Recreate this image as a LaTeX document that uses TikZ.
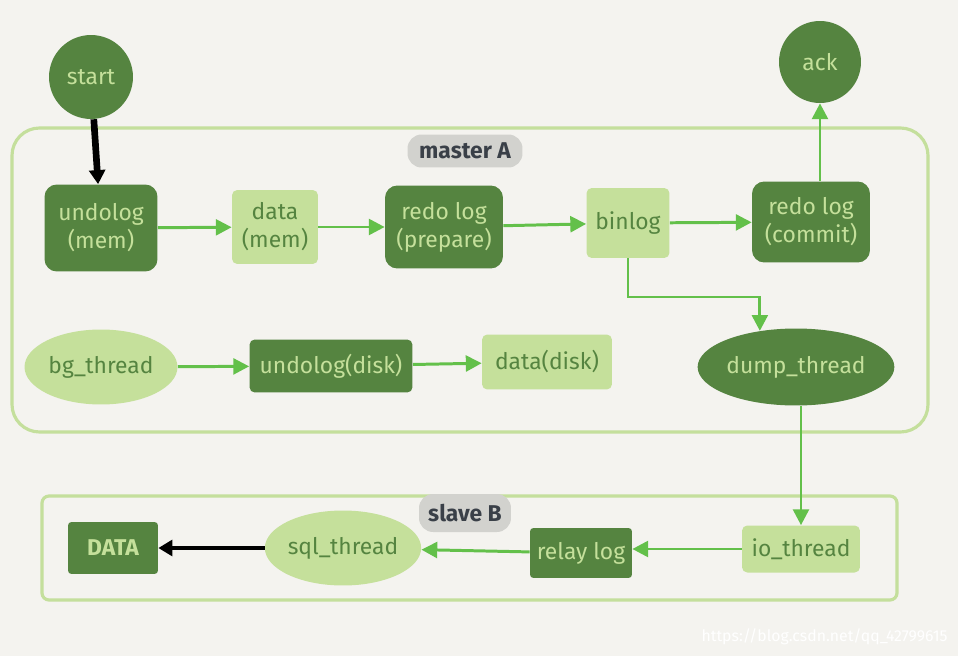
\documentclass[tikz,border=0pt]{standalone}
\usepackage{xcolor}
\usepackage{fontspec}
\setmainfont{Fira Sans}
\usepackage{tikz}
\usetikzlibrary{shapes,arrows.meta,positioning,calc}

\definecolor{paper}{HTML}{F4F3EF}
\definecolor{darkgreen}{HTML}{558440}
\definecolor{lightgreen}{HTML}{C5E09B}
\definecolor{linegreen}{HTML}{63C04A}
\definecolor{framegreen}{HTML}{C4DF9C}
\definecolor{taggrey}{HTML}{D2D2CE}
\definecolor{taginkl}{HTML}{3A4048}

\begin{document}
\begin{tikzpicture}[
  x=0.02cm, y=-0.02cm,
  font=\fontsize{13}{16}\selectfont,
  darkbox/.style={rectangle, fill=darkgreen, text=lightgreen, rounded corners=7pt, align=center, inner sep=2pt},
  lightbox/.style={rectangle, fill=lightgreen, text=darkgreen, rounded corners=3pt, align=center, inner sep=2pt},
  darkell/.style={ellipse, fill=darkgreen, text=lightgreen, inner sep=0pt},
  lightell/.style={ellipse, fill=lightgreen, text=darkgreen, inner sep=0pt},
  endpoint/.style={circle, fill=darkgreen, text=lightgreen, inner sep=0pt},
  tag/.style={rectangle, fill=taggrey, text=taginkl, rounded corners=8pt, font=\fontsize{13}{16}\selectfont\bfseries},
  frame/.style={draw=framegreen, line width=1.8pt, rounded corners=0.55cm},
  arrow/.style={-{Triangle[length=9pt,width=9pt]}, draw=linegreen, line width=1.7pt},
  blackarrow/.style={-{Triangle[length=8pt,width=9pt]}, draw=black, line width=3.8pt}
]
  % paper and bounding box
  \useasboundingbox (0,0) rectangle (958,656);
  \fill[paper] (0,0) rectangle (958,656);

  % frames
  \draw[frame] (12,128) rectangle (928,432);
  \draw[frame, rounded corners=4pt] (42,496) rectangle (897,600);
  \node[tag, minimum width=2.3cm, minimum height=0.66cm] (mastertag) at (465,151) {master A};
  \node[tag, minimum width=1.84cm, minimum height=0.76cm] (slavetag) at (465,513) {slave B};

  % master A
  \node[endpoint, minimum size=1.68cm] (start) at (91,77) {start};
  \node[endpoint, minimum size=1.64cm] (ack) at (820,62) {ack};
  \node[darkbox, minimum width=2.26cm, minimum height=1.74cm] (undomem) at (101,228) {undolog\\(mem)};
  \node[lightbox, minimum width=1.72cm, minimum height=1.48cm] (datamem) at (275,227) {data\\(mem)};
  \node[darkbox, minimum width=2.36cm, minimum height=1.66cm] (redoprep) at (444,227) {redo log\\(prepare)};
  \node[lightbox, minimum width=1.66cm, minimum height=1.4cm] (binlog) at (628,223) {binlog};
  \node[darkbox, minimum width=2.36cm, minimum height=1.62cm] (redocommit) at (811,222) {redo log\\(commit)};
  \node[lightell, minimum width=3.06cm, minimum height=1.5cm] (bgthread) at (101,367) {bg\_thread};
  \node[darkbox, rounded corners=3pt, minimum width=3.26cm, minimum height=1.06cm] (undodisk) at (331,366) {undolog(disk)};
  \node[lightbox, minimum width=2.6cm, minimum height=1.1cm] (datadisk) at (547,362) {data(disk)};
  \node[darkell, minimum width=3.86cm, minimum height=1.54cm] (dump) at (796,367) {dump\_thread};

  % slave B
  \node[darkbox, rounded corners=2pt, minimum width=1.8cm, minimum height=1.04cm, font=\fontsize{13}{16}\selectfont\bfseries] (slavedata) at (113,548) {DATA};
  \node[lightell, minimum width=3.08cm, minimum height=1.5cm] (sqlthread) at (343,548) {sql\_thread};
  \node[darkbox, rounded corners=2pt, minimum width=2.04cm, minimum height=1.0cm] (relay) at (581,553) {relay log};
  \node[lightbox, minimum width=2.36cm, minimum height=0.94cm] (iothread) at (801,549) {io\_thread};

  \coordinate (turn) at (628,297);

  % connectors
  \draw[blackarrow] (start) -- (undomem);
  \draw[arrow] (undomem) -- (datamem);
  \draw[arrow] (datamem) -- (redoprep);
  \draw[arrow] (redoprep) -- (binlog);
  \draw[arrow] (binlog) -- (redocommit);
  \draw[arrow] (redocommit.north -| ack.south) -- (ack.south);
  \draw[arrow] (binlog.south) -- (turn) -| (dump.135);
  \draw[arrow] (bgthread) -- (undodisk);
  \draw[arrow] (undodisk) -- (datadisk);
  \draw[arrow] (dump.south -| iothread.north) -- (iothread.north);
  \draw[arrow] (iothread) -- (relay.east |- iothread);
  \draw[arrow] (relay) -- (sqlthread);
  \draw[blackarrow, line width=2pt] (sqlthread) -- (slavedata);

  \node[text=white, anchor=east, inner sep=0pt, font=\fontsize{9}{11}\selectfont] (mark) at (948,637) {https://blog.csdn.net/qq\_42799615};
\end{tikzpicture}
\end{document}
